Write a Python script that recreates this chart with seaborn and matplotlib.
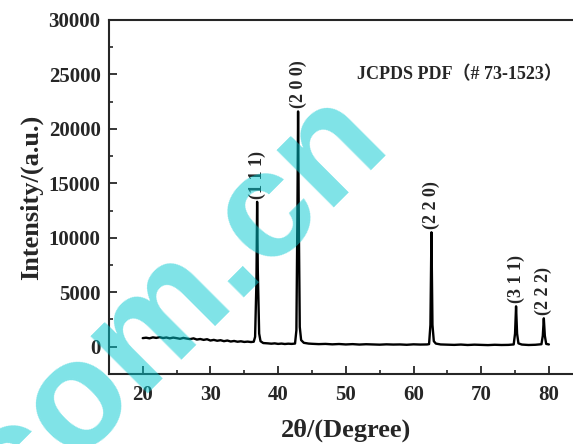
import matplotlib
matplotlib.use("Agg")
import matplotlib.pyplot as plt
import seaborn as sns
import pandas as pd

# XRD pattern (2theta in degrees, intensity in a.u.)
two_theta = [20.0, 20.5, 21.0, 21.5, 22.0, 22.5, 23.0, 23.5, 24.0, 24.5,
             25.0, 25.5, 26.0, 26.5, 27.0, 27.5, 28.0, 28.5, 29.0, 29.5,
             30.0, 30.5, 31.0, 31.5, 32.0, 32.5, 33.0, 33.5, 34.0, 34.5,
             35.0, 35.5, 36.0, 36.4, 36.6, 36.8, 36.9, 37.0, 37.2, 37.4,
             37.8, 38.5, 39.0, 39.5, 40.0, 40.5, 41.0, 41.5, 42.0, 42.5,
             42.7, 42.85, 42.95, 43.05, 43.2, 43.4, 43.8, 44.5, 45.0, 46.0,
             47.0, 48.0, 49.0, 50.0, 51.0, 52.0, 53.0, 54.0, 55.0, 56.0,
             57.0, 58.0, 59.0, 60.0, 61.0, 62.0, 62.3, 62.5, 62.65, 62.8,
             63.0, 63.3, 64.0, 65.0, 66.0, 67.0, 68.0, 69.0, 70.0, 71.0,
             72.0, 73.0, 74.0, 74.8, 75.0, 75.15, 75.3, 75.5, 76.0, 77.0,
             78.0, 78.9, 79.1, 79.25, 79.4, 79.6, 80.0]
intensity = [780, 820, 760, 850, 800, 870, 790, 840, 760, 830,
             780, 720, 800, 740, 690, 760, 650, 700, 620, 680,
             560, 620, 540, 590, 500, 560, 470, 520, 450, 490,
             430, 460, 420, 450, 900, 6000, 13300, 7000, 1200, 500,
             330, 300, 270, 300, 250, 280, 240, 270, 250, 280,
             1500, 12000, 21600, 12000, 1800, 600, 350, 280, 260, 230,
             250, 210, 240, 200, 230, 190, 220, 200, 180, 210,
             190, 200, 170, 210, 190, 200, 230, 2000, 10500, 2000,
             500, 280, 200, 180, 160, 190, 150, 180, 160, 140,
             170, 150, 160, 200, 1200, 3700, 1200, 300, 190, 150,
             170, 220, 1000, 2600, 1000, 250, 200]

peak_pos = [36.9, 42.95, 62.65, 75.15, 79.25]
peak_height = [13300, 21600, 10500, 3700, 2600]
peak_labels = ["(1 1 1)", "(2 0 0)", "(2 2 0)", "(3 1 1)", "(2 2 2)"]

df = pd.DataFrame({"two_theta": two_theta, "intensity": intensity})

sns.set_style("ticks")
plt.rcParams["font.family"] = ["Liberation Serif", "Noto Sans CJK SC", "DejaVu Sans"]
plt.rcParams["font.weight"] = "bold"

fig = plt.figure(figsize=(5.73, 4.44), dpi=100)
ax = fig.add_axes([0.190, 0.158, 0.827, 0.797])

sns.lineplot(data=df, x="two_theta", y="intensity", color="black",
             linewidth=1.7, ax=ax)

for x, h, lab in zip(peak_pos, peak_height, peak_labels):
    ax.text(x, h + 300, lab, rotation=90, ha="center", va="bottom",
            fontsize=13, fontweight="bold")

ax.text(0.523, 0.847, "JCPDS PDF（# 73-1523）", transform=ax.transAxes,
        fontsize=13, fontweight="bold", ha="left", va="center")

ax.set_xlim(15, 85)
ax.set_ylim(-2500, 30000)
ax.set_xticks([20, 30, 40, 50, 60, 70, 80])
ax.set_xticks([25, 35, 45, 55, 65, 75], minor=True)
ax.set_yticks([0, 5000, 10000, 15000, 20000, 25000, 30000])
ax.set_yticks([2500, 7500, 12500, 17500, 22500, 27500], minor=True)
ax.tick_params(direction="in", which="major", length=6, width=1.3,
               labelsize=15, top=False, right=False)
ax.tick_params(axis="x", which="major", pad=8)
ax.tick_params(axis="y", which="major", pad=6)
ax.tick_params(direction="in", which="minor", length=3, width=1.2,
               top=False, right=False)
for lab in ax.get_xticklabels() + ax.get_yticklabels():
    lab.set_fontweight("bold")
for s in ax.spines.values():
    s.set_linewidth(1.5)
    s.set_visible(True)

ax.set_xlabel("2θ/(Degree)", fontsize=19, fontweight="bold", labelpad=10)
ax.set_ylabel("Intensity/(a.u.)", fontsize=19, fontweight="bold", labelpad=4)

# watermark
fig.text(0.305, 0.312, "com.cn", rotation=45, ha="center", va="center",
         fontsize=110, color="#00c8d0", alpha=0.5, family="Liberation Sans",
         fontweight="bold", zorder=10)

fig.savefig("out.png", dpi=100)
